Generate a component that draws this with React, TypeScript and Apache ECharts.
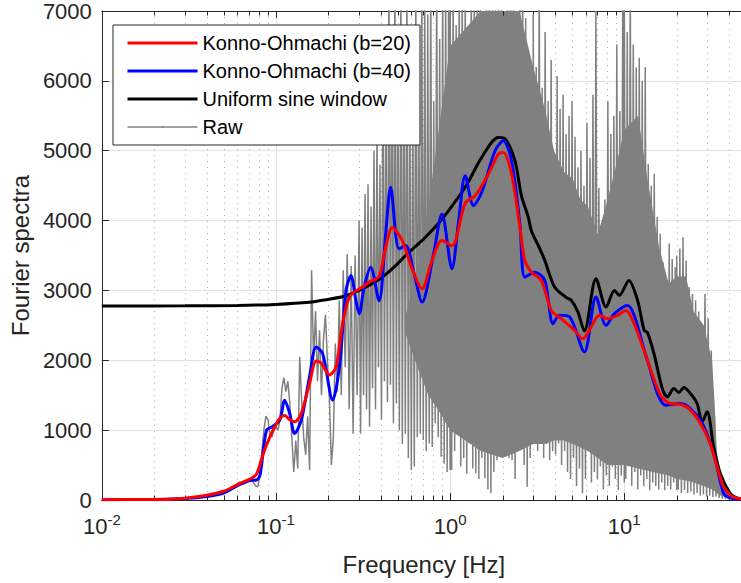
import React, { useEffect, useRef } from 'react';
import * as echarts from 'echarts';

const FONT = '"Liberation Sans", Arial, Helvetica, sans-serif';
const AXIS_COLOR = '#262626';
const GRID_COLOR = '#e1e1e1';
const MINOR_COLOR = '#b0b0b0';

const NAME_KO20 = 'Konno-Ohmachi (b=20)';
const NAME_KO40 = 'Konno-Ohmachi (b=40)';
const NAME_US = 'Uniform sine window';
const NAME_RAW = 'Raw';

const X_MIN = 0.01;
const X_MAX = 50;
const Y_MIN = 0;
const Y_MAX = 7000;
const Y_STEP = 1000;

const minorTickFreqs = [
  0.02, 0.03, 0.04, 0.05, 0.06, 0.07, 0.08, 0.09,
  0.2, 0.3, 0.4, 0.5, 0.6, 0.7, 0.8, 0.9,
  2, 3, 4, 5, 6, 7, 8, 9,
  20, 30, 40,
];

// Konno-Ohmachi (b=20)
const ko20Freq = [0.01, 0.015, 0.02, 0.025, 0.03, 0.035, 0.042, 0.05, 0.0595, 0.066, 0.0709, 0.0773, 0.0844, 0.0921, 0.1, 0.1051, 0.1122, 0.1199, 0.128, 0.1397, 0.1558, 0.1701, 0.1816, 0.2026, 0.2213, 0.2413, 0.2635, 0.2813, 0.3138, 0.3427, 0.3908, 0.425, 0.4655, 0.5308, 0.6, 0.6903, 0.78, 0.8979, 1.024, 1.221, 1.393, 1.659, 1.891, 2.02, 2.253, 2.515, 2.686, 2.929, 3.341, 3.809, 4.345, 5.182, 5.779, 6.445, 7.195, 8.025, 9.152, 10.21, 11.4, 13.57, 16.17, 18.43, 21.02, 23.98, 27.35, 31.18, 34.05, 37.19, 40.55, 44.87, 50];
const ko20Amp = [5, 6, 8, 12, 25, 45, 80, 125, 214, 265, 300, 370, 660, 900, 1080, 1170, 1210, 1150, 1120, 1240, 1667, 1990, 1960, 1790, 1905, 2524, 2905, 2976, 3048, 3120, 3200, 3600, 3900, 3714, 3330, 3024, 3400, 3714, 3640, 4250, 4357, 4667, 4952, 4976, 4667, 3905, 3429, 3262, 3143, 2714, 2595, 2429, 2310, 2476, 2643, 2595, 2643, 2714, 2524, 2000, 1500, 1381, 1371, 1286, 1095, 810, 476, 190, 71, 24, 10];

// Konno-Ohmachi (b=40)
const ko40Freq = [0.01, 0.02, 0.03, 0.04, 0.05, 0.0595, 0.0709, 0.0773, 0.081, 0.0882, 0.0952, 0.1051, 0.1122, 0.1199, 0.128, 0.1397, 0.1558, 0.1701, 0.1855, 0.2116, 0.2313, 0.2525, 0.2694, 0.2876, 0.3004, 0.3207, 0.3497, 0.3908, 0.4266, 0.4553, 0.5083, 0.5552, 0.62, 0.6903, 0.8, 0.8979, 1.024, 1.12, 1.221, 1.362, 1.518, 1.811, 2.02, 2.253, 2.515, 2.686, 3.06, 3.495, 3.898, 4.25, 4.857, 5.9, 6.88, 7.86, 8.78, 10.42, 11.4, 13.57, 17.3, 21.02, 27.35, 32.6, 37.19, 40.55, 44.87, 50];
const ko40Amp = [5, 8, 20, 50, 100, 200, 280, 286, 360, 1000, 1048, 1143, 1429, 1238, 952, 1143, 1762, 2190, 2095, 1429, 1905, 3000, 3214, 2857, 2667, 3048, 3333, 2850, 3810, 4476, 3595, 3643, 3250, 2833, 3500, 4095, 3310, 4000, 4643, 4214, 4405, 5000, 5143, 4857, 3950, 3190, 3262, 3143, 2524, 2643, 2619, 2119, 2905, 2500, 2667, 2786, 2643, 2000, 1357, 1381, 1143, 667, 95, 30, 10, 5];

// Uniform sine window
const usFreq = [0.01, 0.03, 0.06, 0.1, 0.1558, 0.194, 0.25, 0.3, 0.35, 0.408, 0.48, 0.555, 0.64, 0.722, 0.85, 0.98, 1.221, 1.518, 1.891, 2.067, 2.355, 2.57, 2.81, 2.93, 3.27, 3.495, 3.98, 4.64, 4.96, 5.4, 5.9, 6.88, 7.86, 8.78, 9.37, 10.62, 11.92, 13.0, 13.57, 14.81, 16.54, 17.68, 19.26, 20.6, 22.0, 23.98, 26.2, 28.0, 29.9, 32.6, 35.6, 40.55, 44.3, 50];
const usAmp = [2778, 2780, 2785, 2800, 2830, 2867, 2920, 3000, 3085, 3190, 3340, 3500, 3640, 3762, 3950, 4143, 4476, 4905, 5190, 5171, 4857, 4350, 4050, 3850, 3600, 3430, 3050, 2900, 2860, 2700, 2420, 3167, 2762, 3000, 2929, 3143, 2857, 2429, 2400, 2095, 1595, 1476, 1595, 1540, 1610, 1524, 1381, 1119, 1262, 762, 381, 95, 30, 10];

// Raw spectrum, read block by block (values evenly spread on the log axis inside each block)
const rawB1 = [4, 5, 6, 7, 9, 11, 14, 18, 24, 32, 45, 65, 95];
const rawB2 = [95, 110, 130, 150, 170, 200, 210, 240, 260, 250, 230, 260, 280, 300, 310, 240, 200, 190, 350, 700, 1000, 1200, 1150, 950, 900, 1000, 1050];
const rawB3 = [1050, 1000, 1150, 1600, 1750, 1550, 1700, 1380, 900, 400, 850, 450, 2050, 1400, 900, 650, 1200, 430, 3290, 2000, 2700, 1700, 2430, 1500, 2300, 2650, 2000, 1450, 500, 900, 2240, 1550, 2860, 1500, 3290, 1900, 3520, 1300, 3350, 950, 3500, 1500, 4000];
const rawB4 = [4000, 950, 3900, 1500, 4380, 1300, 4520, 1050, 4200, 1600, 5000, 1300, 5290, 1900, 4800, 1150, 6430, 1700, 5800, 1400, 7500, 1650, 6710, 1100, 7500, 1380, 6200, 1000, 7500, 800, 6520, 950, 7500, 600, 6100, 430, 5900, 480, 7500, 900, 6300, 950, 7500, 860, 7200, 700, 6950, 810, 7500, 760, 5710, 1100, 7500, 900, 6600, 620, 7500, 520, 7500, 400, 7500, 430];
const rawB5 = [7500, 430, 7500, 700, 6800, 950, 7500, 480, 7500, 600, 7500, 380, 6500, 900, 7500, 450, 7500, 380, 7500, 300, 7500, 600, 6900, 310, 7500, 150, 7500, 95, 7500, 400, 7500, 570, 7500, 800, 7500, 950, 6600, 700, 7500, 600, 7500, 571, 7500, 300, 6800, 700, 7500, 1240, 7500, 500, 6900, 190, 6200, 600, 5700, 900];
const rawB6 = [6950, 900, 6200, 700, 7500, 950, 5900, 600, 6700, 800, 5710, 570, 6300, 700, 3000, 650, 6070, 810, 5600, 500, 5800, 700, 5240, 400, 5500, 300, 5710, 600, 5200, 200, 4760, 450, 5000, 95, 4500, 300, 5400, 700, 4900, 250, 5800, 400, 7000, 300, 4470, 480, 3810, 150, 4300, 350, 5710, 200, 5240, 476, 5500, 300, 6520, 143, 5570, 350, 7500, 250];
const rawB7 = [7500, 300, 6700, 500, 7500, 200, 6520, 400, 6190, 150, 6330, 350, 6000, 200, 6200, 300, 4810, 140, 4500, 250, 4670, 200, 4050, 150, 3810, 250, 3400, 140, 3100, 200, 3670, 150, 3450, 250, 3330, 143];
const rawB8 = [3500, 150, 3600, 100, 3760, 143, 3430, 100, 3050, 120, 2950, 80, 2860, 100, 2700, 60, 2400, 80, 2950, 50, 2600, 60, 2140, 40, 1200, 50, 570, 30, 300, 20, 150, 15, 100, 10, 60, 8, 40, 5, 25, 5];
const rawBlockEdges = [0.01, 0.05, 0.1, 0.3, 1, 3, 10, 20, 45];

// Dense part of the raw spectrum: solid envelope
const bandFreq = [0.55, 0.65, 0.75, 0.85, 1.0, 1.5, 2.0, 2.5, 3.0, 3.5, 3.95, 4.5, 5.06, 5.6, 6.18, 7.04, 8.02, 9, 10, 12, 13.57, 15.9, 18, 20, 22.6, 25, 28.6, 31.9, 33, 34, 36, 40, 44];
const bandHigh = [2600, 3300, 4200, 5200, 6500, 7000, 7000, 7000, 6200, 5600, 5000, 4700, 4600, 4300, 4200, 3800, 4300, 4800, 5300, 5500, 4600, 3600, 3100, 3200, 3200, 2700, 2500, 2000, 1400, 700, 250, 80, 30];
const bandLow = [2400, 1900, 1500, 1300, 1000, 700, 600, 700, 800, 800, 850, 850, 800, 750, 700, 600, 500, 500, 500, 450, 420, 380, 350, 300, 280, 250, 200, 150, 130, 100, 60, 30, 10];

function pairs(fs: number[], vs: number[]) {
  return fs.map((f, i) => [f, vs[i]]);
}

function blockPoints(f0: number, f1: number, vals: number[]) {
  const n = vals.length;
  return vals.map((v, i) => [f0 * Math.pow(f1 / f0, i / (n - 1)), v]);
}

const rawBlocks = [rawB1, rawB2, rawB3, rawB4, rawB5, rawB6, rawB7, rawB8];

export default function App() {
  const ref = useRef<HTMLDivElement>(null);

  useEffect(() => {
    if (!ref.current) return;
    const chart = echarts.init(ref.current, undefined, { renderer: 'svg' });

    const rawData: number[][] = [];
    rawBlocks.forEach((vals, k) => {
      blockPoints(rawBlockEdges[k], rawBlockEdges[k + 1], vals).forEach((p) => rawData.push(p));
    });

    const lineCommon = {
      type: 'line',
      symbol: 'none',
      showSymbol: false,
      clip: true,
      smooth: 0.3,
    };

    const option: any = {
      animation: false,
      grid: { left: 101, right: 0, top: 10, bottom: 83, containLabel: false },
      legend: {
        orient: 'vertical',
        left: 113,
        top: 25,
        padding: [8, 9, 8, 13],
        itemWidth: 70,
        itemHeight: 2,
        itemGap: 8,
        backgroundColor: '#ffffff',
        borderColor: AXIS_COLOR,
        borderWidth: 1,
        borderRadius: 0,
        selectedMode: false,
        lineStyle: { width: 'inherit' },
        textStyle: { fontFamily: FONT, fontSize: 20, color: '#000000', lineHeight: 20 },
        data: [NAME_KO20, NAME_KO40, NAME_US, NAME_RAW],
        z: 10,
      },
      xAxis: [
        {
          type: 'log',
          logBase: 10,
          min: X_MIN,
          max: X_MAX,
          position: 'bottom',
          axisLine: { show: true, onZero: false, lineStyle: { color: AXIS_COLOR, width: 1 } },
          axisTick: { show: true, inside: true, length: 7, lineStyle: { color: AXIS_COLOR } },
          axisLabel: {
            margin: 12,
            color: AXIS_COLOR,
            formatter: (v: number) => {
              const e = Math.log10(v);
              if (Math.abs(e - Math.round(e)) > 1e-6) return '';
              return `{b|10}{s|${Math.round(e)}}`;
            },
            rich: {
              b: { fontFamily: FONT, fontSize: 22, color: AXIS_COLOR, lineHeight: 28 },
              s: { fontFamily: FONT, fontSize: 15, color: AXIS_COLOR, verticalAlign: 'top', lineHeight: 15 },
            },
          },
          splitLine: { show: true, lineStyle: { color: GRID_COLOR, width: 1 } },
          name: 'Frequency [Hz]',
          nameLocation: 'middle',
          nameGap: 52,
          nameTextStyle: { fontFamily: FONT, fontSize: 24, color: AXIS_COLOR },
        },
        {
          type: 'log',
          logBase: 10,
          min: X_MIN,
          max: X_MAX,
          position: 'top',
          axisLine: { show: true, onZero: false, lineStyle: { color: AXIS_COLOR, width: 1 } },
          axisTick: { show: true, inside: true, length: 7, lineStyle: { color: AXIS_COLOR } },
          axisLabel: { show: false },
          splitLine: { show: false },
        },
      ],
      yAxis: {
        type: 'value',
        min: Y_MIN,
        max: Y_MAX,
        interval: Y_STEP,
        axisLine: { show: true, onZero: false, lineStyle: { color: AXIS_COLOR, width: 1 } },
        axisTick: { show: true, inside: true, length: 7, lineStyle: { color: AXIS_COLOR } },
        axisLabel: {
          fontFamily: FONT,
          fontSize: 22,
          color: AXIS_COLOR,
          margin: 10,
          formatter: (v: number) => String(v),
        },
        splitLine: { show: true, lineStyle: { color: GRID_COLOR, width: 1 } },
        name: 'Fourier spectra',
        nameLocation: 'middle',
        nameGap: 62,
        nameTextStyle: { fontFamily: FONT, fontSize: 24, color: AXIS_COLOR },
      },
      series: [
        {
          type: 'custom',
          name: 'minorGrid',
          silent: true,
          data: minorTickFreqs.map((f) => [f, 0]),
          encode: { x: 0, y: 1 },
          renderItem: (params: any, api: any) => {
            const cs = params.coordSys;
            const x = Math.round(api.coord([api.value(0), 0])[0]) + 0.5;
            return {
              type: 'line',
              shape: { x1: x, y1: cs.y, x2: x, y2: cs.y + cs.height },
              style: { stroke: MINOR_COLOR, lineWidth: 1, lineDash: [1, 5] },
            };
          },
        },
        {
          type: 'custom',
          name: 'rawBand',
          silent: true,
          clip: true,
          data: bandFreq.map((f, i) => [f, bandLow[i], bandHigh[i]]),
          encode: { x: 0, y: [1, 2] },
          renderItem: (params: any, api: any) => {
            if (params.dataIndex !== 0) return { type: 'group', children: [] };
            const up = bandFreq.map((f, i) => api.coord([f, bandHigh[i]]));
            const lo = bandFreq.map((f, i) => api.coord([f, bandLow[i]])).reverse();
            return {
              type: 'polygon',
              shape: { points: up.concat(lo) },
              style: { fill: '#808080', stroke: 'none' },
            };
          },
        },
        {
          type: 'line',
          name: NAME_RAW,
          symbol: 'none',
          showSymbol: false,
          clip: true,
          data: rawData,
          lineStyle: { color: '#808080', width: 1.5 },
          itemStyle: { color: '#808080' },
        },
        {
          ...lineCommon,
          name: NAME_US,
          data: pairs(usFreq, usAmp),
          lineStyle: { color: '#000000', width: 3 },
          itemStyle: { color: '#000000' },
        },
        {
          ...lineCommon,
          name: NAME_KO40,
          data: pairs(ko40Freq, ko40Amp),
          lineStyle: { color: '#0000ff', width: 3 },
          itemStyle: { color: '#0000ff' },
        },
        {
          ...lineCommon,
          name: NAME_KO20,
          data: pairs(ko20Freq, ko20Amp),
          lineStyle: { color: '#ff0000', width: 3 },
          itemStyle: { color: '#ff0000' },
        },
        {
          type: 'custom',
          name: 'minorTicks',
          silent: true,
          data: minorTickFreqs.map((f) => [f, 0]),
          encode: { x: 0, y: 1 },
          renderItem: (params: any, api: any) => {
            const cs = params.coordSys;
            const x = Math.round(api.coord([api.value(0), 0])[0]) + 0.5;
            return {
              type: 'group',
              children: [
                {
                  type: 'line',
                  shape: { x1: x, y1: cs.y + cs.height, x2: x, y2: cs.y + cs.height - 4.5 },
                  style: { stroke: AXIS_COLOR, lineWidth: 1 },
                },
                {
                  type: 'line',
                  shape: { x1: x, y1: cs.y, x2: x, y2: cs.y + 4.5 },
                  style: { stroke: AXIS_COLOR, lineWidth: 1 },
                },
              ],
            };
          },
        },
      ],
    };

    chart.setOption(option);
    return () => chart.dispose();
  }, []);

  return (
    <div
      ref={ref}
      style={{ position: 'fixed', left: 0, top: 0, width: 749, height: 583, background: '#ffffff' }}
    />
  );
}
